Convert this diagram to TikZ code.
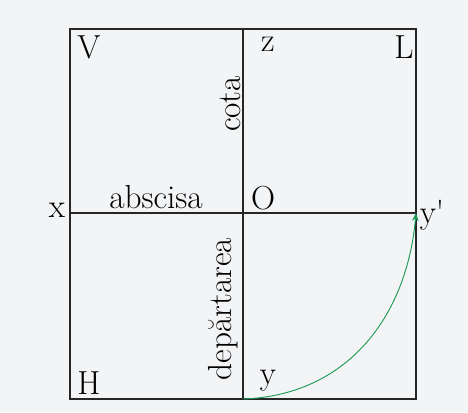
\documentclass[tikz,border=0pt]{standalone}
\usepackage{xcolor}
\usepackage{tikz}
\usetikzlibrary{positioning, arrows.meta}

\definecolor{bggray}{HTML}{F3F4F6}
\definecolor{arcgreen}{HTML}{1E9B55}

\begin{document}
\begin{tikzpicture}[x=0.75pt, y=-0.75pt,
        axis/.style={draw=black!85, line width=0.9pt},
        lbl/.style={font=\fontsize{25}{29}\selectfont, inner sep=0pt},
        turn/.style={lbl, rotate=90}]
        \fill[bggray] (0,0) rectangle (468,412);
        \useasboundingbox (0,0) rectangle (468,412);

        % corners and axis ends
        \coordinate (tl) at (70,29);
        \coordinate (br) at (416,399);
        \coordinate (O)  at (243,213);
        \coordinate (xa) at (70,213);
        \coordinate (ya) at (416,213);
        \coordinate (za) at (243,29);
        \coordinate (yb) at (243,399);

        \draw[axis] (tl) rectangle (br);
        \draw[axis] (xa) -- (ya);
        \draw[axis] (za) -- (yb);

        \node[lbl] (V) at (89,47)  {V};
        \node[lbl] (z) at (268,44) {z};
        \node[lbl] (L) at (404,47) {L};
        \node[lbl] (x) at (57,210) {x};
        \node[lbl] (abs) at (156,197) {abscisa};
        \node[lbl] (Ol) at (263,198) {O};
        \node[lbl] (yp) at (432,215) {y\textquotesingle};
        \node[lbl] (H) at (89,383) {H};
        \node[lbl] (y) at (268,381) {y};
        \node[turn] (cota) at (230,104) {cota};
        \node[turn] (dep) at (223,309) {depărtarea};

        \draw[arcgreen, line width=0.7pt, -{Stealth[length=6pt, width=5pt]}]
            (yb) to[out=2, in=-95, looseness=1.05] (ya);
\end{tikzpicture}
\end{document}
